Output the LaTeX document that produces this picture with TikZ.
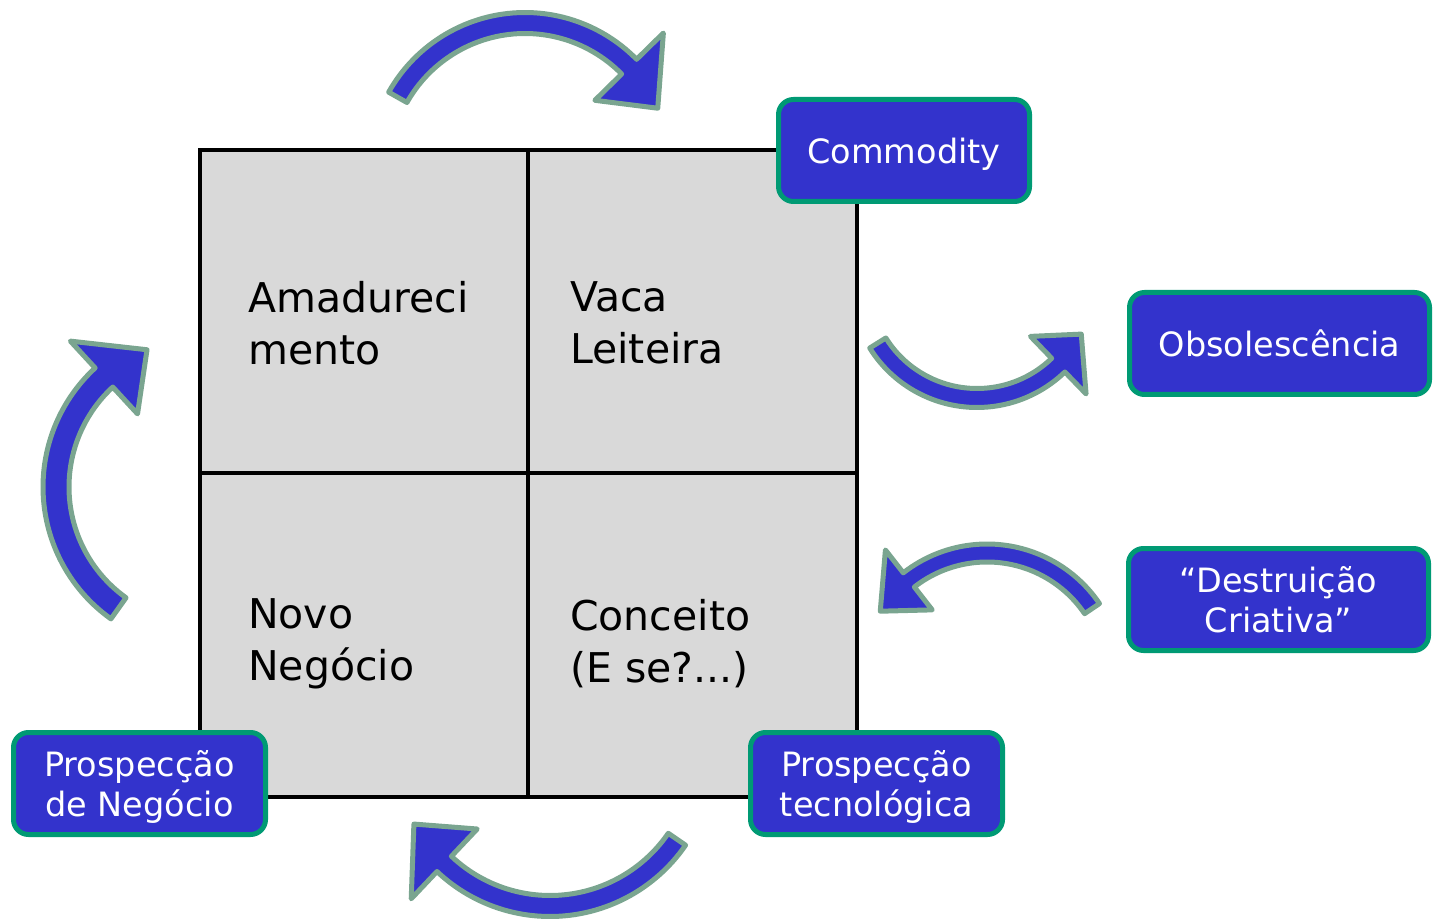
\documentclass[tikz,border=0pt]{standalone}
\usepackage{fontspec}
\setmainfont{DejaVu Sans}
\usepackage{tikz}

\definecolor{arrowblue}{HTML}{3333CC}
\definecolor{arrowrim}{HTML}{7AA590}
\definecolor{boxrim}{HTML}{009A74}
\definecolor{cellgray}{HTML}{D9D9D9}

\tikzset{
	cell/.style={draw=black,line width=4,fill=cellgray,inner sep=0pt},
	celltext/.style={anchor=west,align=left,inner sep=0pt,font=\fontsize{41}{52}\selectfont},
	phase/.style={draw=boxrim,line width=5,fill=arrowblue,rounded corners=15,text=white,align=center,
		minimum height=102,inner sep=0pt,text depth=0pt,font=\fontsize{33.5}{40}\selectfont},
	bentarrow/.style={draw=arrowrim,fill=arrowblue,line width=5,line join=round}
}

\begin{document}
\begin{tikzpicture}[x=1pt,y=1pt]
\useasboundingbox (0,0) rectangle (1439,922);

%cells
\node[cell,minimum width=328,minimum height=323] (amad) at (364,610.5) {};
\node[cell,minimum width=329,minimum height=323] (vaca) at (692.5,610.5) {};
\node[cell,minimum width=328,minimum height=324] (novo) at (364,287) {};
\node[cell,minimum width=329,minimum height=324] (conc) at (692.5,287) {};

\node[celltext] (amadtxt) at (248,599) {Amadureci\\mento};
\node[celltext] (vacatxt) at (570,599) {Vaca\\Leiteira};
\node[celltext] (novotxt) at (248,278) {Novo\\Negócio};
\node[celltext] (conctxt) at (570,278) {Conceito\\(E se?...)};

%arrows
\foreach \cx/\cy/\rad/\astart/\aend/\atip/\w/\h in {
	525/753/146/150.6/44.5/24.6/10.5/48,
	977/641/117/212/314/333/9.5/40,
	205/435/149/234.5/132.7/112.9/13/49.5,
	550/170/154/325.5/226.6/207.9/10.5/48,
	987/242/127/34.2/128/147.2/9/38}{
	\pgfmathsetmacro{\ro}{\rad+\w}
	\pgfmathsetmacro{\ri}{\rad-\w}
	\pgfmathsetmacro{\ho}{\rad+\h}
	\pgfmathsetmacro{\hi}{\rad-\h}
	\filldraw[bentarrow,shift={(\cx,\cy)}] (\astart:\ro) arc[start angle=\astart,end angle=\aend,radius=\ro]
		-- (\aend:\ho) -- (\atip:\rad) -- (\aend:\hi) -- (\aend:\ri)
		arc[start angle=\aend,end angle=\astart,radius=\ri] -- cycle;}

%boxes
\node[phase,minimum width=251] (commodity) at (904,771.5) {Commodity};
\node[phase,minimum width=300] (obsol) at (1279.5,578.5) {Obsolescência};
\node[phase,minimum width=300] (destr) at (1278.5,322.5) {“Destruição\\Criativa”};
\node[phase,minimum width=252] (prneg) at (139.5,138.5) {Prospecção\\de Negócio};
\node[phase,minimum width=252] (prtec) at (876.5,138.5) {Prospecção\\tecnológica};
\end{tikzpicture}
\end{document}
